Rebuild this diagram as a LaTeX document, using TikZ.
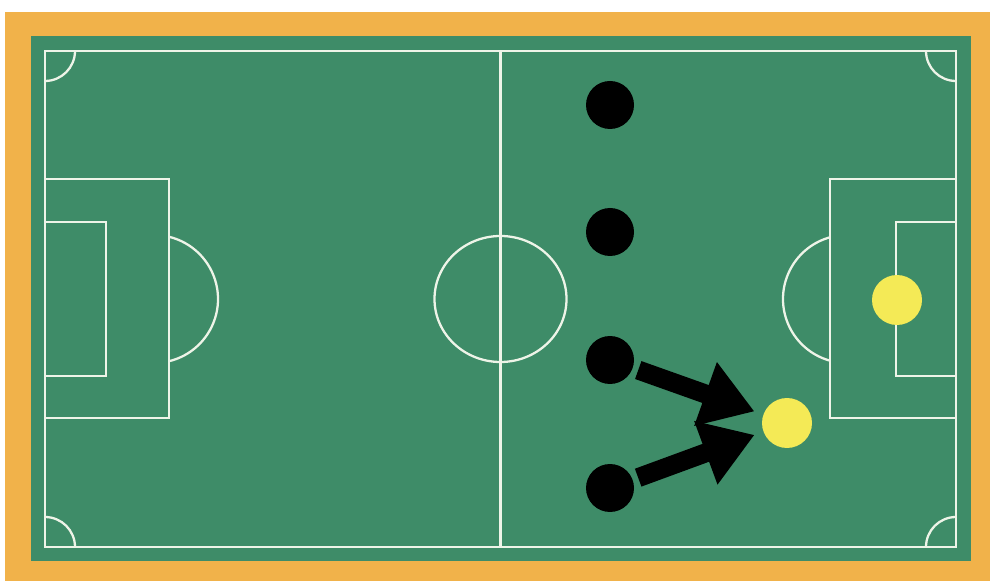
\documentclass[tikz,border=0pt]{standalone}
\usepackage{tikz}
\usetikzlibrary{shapes}
\usetikzlibrary{arrows.meta}
\definecolor{turf}{RGB}{62,140,104}
\definecolor{frame}{RGB}{241,178,74}
\definecolor{chalk}{RGB}{238,244,232}
\definecolor{shirt}{RGB}{244,234,86}

\begin{document}
\begin{tikzpicture}[x=0.02cm,y=0.02cm]

  \tikzset{pitchline/.style = {draw=chalk,line width=1.3pt}}
  \tikzset{attacker/.style = {shape=circle,fill=black,minimum size=0.96cm,inner sep=0pt,outer sep=0pt}}
  \tikzset{defender/.style = {shape=circle,fill=shirt,minimum size=1cm,inner sep=0pt,outer sep=0pt}}
  \tikzset{push/.style = {-{Triangle[length=1.04cm,width=1.28cm]},line width=0.38cm,shorten <=0.12cm,shorten >=0.19cm}}
  % background
  \useasboundingbox (0,0) rectangle (990,581);
  \fill[white] (0,0) rectangle (990,581);
  \fill[frame] (5,0) rectangle (990,569);
  \fill[turf] (31,20) rectangle (971,545);
  % pitch
  \draw[pitchline] (45,34) rectangle (956,530);
  \draw[pitchline] (500.5,34) -- (500.5,530);
  \draw[pitchline] (500.5,282) ellipse [x radius=66,y radius=63];
  \draw[pitchline] (45,163) rectangle (169,402);
  \draw[pitchline] (45,205) rectangle (106,359);
  \draw[pitchline] (830,163) rectangle (956,402);
  \draw[pitchline] (896,205) rectangle (956,359);
  \draw[pitchline] (154,282) ++(-76:64) arc[start angle=-76,end angle=76,radius=64];
  \draw[pitchline] (847,282) ++(105:64) arc[start angle=105,end angle=255,radius=64];
  % corners
  \draw[pitchline] (75,530) arc[start angle=0,end angle=-90,radius=30];
  \draw[pitchline] (926,530) arc[start angle=180,end angle=270,radius=30];
  \draw[pitchline] (75,34) arc[start angle=0,end angle=90,radius=30];
  \draw[pitchline] (956,64) arc[start angle=90,end angle=180,radius=30];
  % players
  \node[attacker] (a1) at (610,476) {};
  \node[attacker] (a2) at (610,349) {};
  \node[attacker] (a3) at (610,221) {};
  \node[attacker] (a4) at (610,93) {};
  \node[defender] (d1) at (787,158) {};
  \node[defender] (d2) at (897,281) {};
  % runs
  \draw[push] (a3) -- (d1);
  \draw[push] (a4) -- (d1);
\end{tikzpicture}
\end{document}
